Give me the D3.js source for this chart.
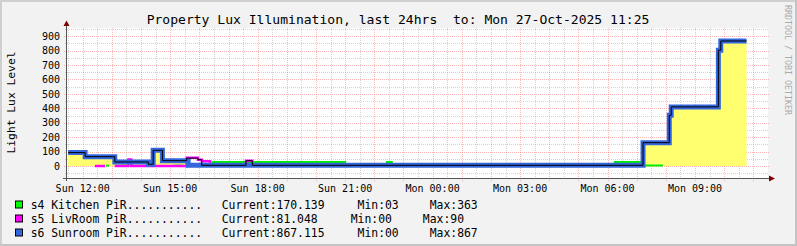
<!DOCTYPE html>
<html>
<head>
<meta charset="utf-8">
<script src="https://cdn.jsdelivr.net/npm/d3@7"></script>
<style>
body { margin: 0; background: #f2f2f2; }
text { font-family: "DejaVu Sans Mono", monospace; white-space: pre; }
</style>
</head>
<body>
<script>
var width = 797;
var height = 246;

// time window of the graph
var startTime = "26 11:25";
var endTime = "27 11:25";

// each series: runs of [from, to, value]
var kitchen = [
  ["26 12:48", "26 12:54", 3],
  ["26 15:08", "26 15:26", 3],
  ["26 16:25", "26 21:00", 28], ["26 21:00", "26 22:26", 5], ["26 22:26", "26 22:36", 28],
  ["26 22:36", "27 06:15", 5], ["27 06:15", "27 07:10", 28], ["27 07:10", "27 07:54", 3]
];
var livroom = [
  ["26 12:25", "26 12:46", 0],
  ["26 13:06", "26 13:34", 0], ["26 13:34", "26 13:40", 46], ["26 13:40", "26 15:34", 0],
  ["26 15:34", "26 15:57", 58], ["26 15:57", "26 16:05", 44], ["26 16:05", "26 16:22", 33],
  ["26 16:22", "26 17:36", 5], ["26 17:36", "26 17:49", 37], ["26 17:49", "27 07:10", 5]
];
var sunroom = [
  ["26 11:30", "26 12:05", 93], ["26 12:05", "26 13:06", 65], ["26 13:06", "26 14:15", 28],
  ["26 14:15", "26 14:25", 12], ["26 14:25", "26 14:44", 109], ["26 14:44", "26 15:37", 37],
  ["26 15:37", "27 07:13", 5], ["27 07:13", "27 08:07", 162], ["27 08:07", "27 08:11", 352],
  ["27 08:11", "27 09:48", 410], ["27 09:48", "27 09:53", 803], ["27 09:53", "27 10:46", 867]
];
// thin black line drawn over the sunroom line
var outline = [
  ["26 11:30", "26 12:05", 93], ["26 12:05", "26 13:06", 65], ["26 13:06", "26 14:15", 28],
  ["26 14:15", "26 14:25", 12], ["26 14:25", "26 14:44", 109], ["26 14:44", "26 15:34", 37],
  ["26 15:34", "26 15:57", 55], ["26 15:57", "26 16:05", 44], ["26 16:05", "26 17:36", 5],
  ["26 17:36", "26 17:49", 37], ["26 17:49", "27 07:13", 5], ["27 07:13", "27 08:07", 162],
  ["27 08:07", "27 08:11", 352], ["27 08:11", "27 09:48", 410], ["27 09:48", "27 09:53", 803],
  ["27 09:53", "27 10:46", 867]
];

var yLabels = [0, 100, 200, 300, 400, 500, 600, 700, 800, 900];
var legendNames = ["s4 Kitchen PiR...........", "s5 LivRoom PiR...........", "s6 Sunroom PiR..........."];
var legendColors = ["#00ff00", "#ff00ff", "#3366dd"];
var legendCurrent = ["Current:170.139", "Current:81.048", "Current:867.115"];
var legendMin = ["Min:03", "Min:00", "Min:00"];
var legendMax = ["Max:363", "Max:90", "Max:867"];

function tm(s) {
  var p = s.split(/[ :]/);
  return new Date(2025, 9, +p[0], +p[1], +p[2]);
}

// turn runs into point lists, one per unbroken piece
function pieces(runs) {
  var out = [], cur = null, lastEnd = null;
  runs.forEach(function(r) {
    if (cur === null || r[0] !== lastEnd) { cur = []; out.push(cur); }
    cur.push([tm(r[0]), r[2]]);
    cur.push([tm(r[1]), r[2]]);
    lastEnd = r[1];
  });
  return out;
}

var svg = d3.select("body").append("svg")
    .attr("width", width)
    .attr("height", height);

svg.append("rect").attr("width", width).attr("height", height).attr("fill", "#f2f2f2");
svg.append("rect").attr("x", 0).attr("y", 0).attr("width", width).attr("height", 2).attr("fill", "#cfcfcf");
svg.append("rect").attr("x", 0).attr("y", 0).attr("width", 2).attr("height", height).attr("fill", "#cfcfcf");
svg.append("rect").attr("x", width - 2).attr("y", 0).attr("width", 2).attr("height", height).attr("fill", "#c4c4c4");
svg.append("rect").attr("x", 0).attr("y", height - 2).attr("width", width).attr("height", 2).attr("fill", "#c4c4c4");

var x = d3.scaleTime()
    .domain([tm(startTime), tm(endTime)])
    .range([65.7, 765.5]);

var y = d3.scaleLinear()
    .domain([-90, 950])
    .range([179, 29]);

svg.append("rect")
    .attr("x", 67).attr("y", 28)
    .attr("width", 701).attr("height", 151)
    .attr("fill", "#ffffff");

// grid
var grid = svg.append("g").attr("class", "grid");
var halfHours = d3.timeMinute.every(30).range(tm(startTime), tm(endTime))
    .filter(function(d) { return x(d) > 67 && x(d) < 768; });

var yMinor = d3.range(-50, 951, 50).filter(function(v) { return v % 100 !== 0; });
var yMajor = d3.range(0, 901, 100);

grid.selectAll(".vminor")
    .data(halfHours.filter(function(d) { return d.getMinutes() !== 0; }))
  .enter().append("line")
    .attr("x1", function(d) { return Math.round(x(d)) + 0.5; })
    .attr("x2", function(d) { return Math.round(x(d)) + 0.5; })
    .attr("y1", 28).attr("y2", 179)
    .attr("stroke", "#8c8c8c").attr("stroke-opacity", 0.38)
    .attr("stroke-dasharray", "1,1");

grid.selectAll(".hminor")
    .data(yMinor)
  .enter().append("line")
    .attr("x1", 65).attr("x2", 768)
    .attr("y1", function(d) { return Math.round(y(d)) + 0.5; })
    .attr("y2", function(d) { return Math.round(y(d)) + 0.5; })
    .attr("stroke", "#8c8c8c").attr("stroke-opacity", 0.38)
    .attr("stroke-dasharray", "1,1");

grid.selectAll(".vmajor")
    .data(halfHours.filter(function(d) { return d.getMinutes() === 0; }))
  .enter().append("line")
    .attr("x1", function(d) { return Math.round(x(d)) + 0.5; })
    .attr("x2", function(d) { return Math.round(x(d)) + 0.5; })
    .attr("y1", 28).attr("y2", 181)
    .attr("stroke", "#ff5050").attr("stroke-opacity", 0.4)
    .attr("stroke-dasharray", "1,1");

grid.selectAll(".hmajor")
    .data(yMajor)
  .enter().append("line")
    .attr("x1", 64).attr("x2", 770)
    .attr("y1", function(d) { return Math.round(y(d)) + 0.5; })
    .attr("y2", function(d) { return Math.round(y(d)) + 0.5; })
    .attr("stroke", "#ff5050").attr("stroke-opacity", 0.4)
    .attr("stroke-dasharray", "1,1");

// data
var line = d3.line()
    .x(function(d) { return x(d[0]); })
    .y(function(d) { return y(d[1]); });

var area = d3.area()
    .x(function(d) { return x(d[0]); })
    .y0(y(0))
    .y1(function(d) { return y(d[1]); });

svg.append("g").selectAll("path")
    .data(pieces(sunroom))
  .enter().append("path")
    .attr("d", area)
    .attr("fill", "#ffff70");

function drawLine(runs, color, w) {
  svg.append("g").selectAll("path")
      .data(pieces(runs))
    .enter().append("path")
      .attr("d", line)
      .attr("fill", "none")
      .attr("stroke", color)
      .attr("stroke-width", w);
}

drawLine(kitchen, "#00ee00", 2);
drawLine(livroom, "#ff00ff", 2.5);
drawLine(sunroom, "#3366dd", 5);
drawLine(outline, "#000000", 1);

// axes
svg.append("line")
    .attr("x1", 63).attr("x2", 770)
    .attr("y1", 178.5).attr("y2", 178.5)
    .attr("stroke", "#555555");
svg.append("line")
    .attr("x1", 66.5).attr("x2", 66.5)
    .attr("y1", 181).attr("y2", 25)
    .attr("stroke", "#555555");
svg.append("path")
    .attr("d", "M769,175.5L775,178.5L769,181.5Z")
    .attr("fill", "#7f0000");
svg.append("path")
    .attr("d", "M63.5,26L66.5,20.5L69.5,26Z")
    .attr("fill", "#7f0000");

svg.append("g").selectAll("text")
    .data(yLabels)
  .enter().append("text")
    .attr("x", 60)
    .attr("y", function(d) { return y(d) + 3.6; })
    .attr("text-anchor", "end")
    .attr("font-size", "10px")
    .attr("fill", "#000")
    .text(function(d) { return d; });

var fmt = d3.timeFormat("%a %H:%M");
svg.append("g").selectAll("text")
    .data(d3.timeHour.every(3).range(tm(startTime), tm(endTime)))
  .enter().append("text")
    .attr("x", function(d) { return x(d); })
    .attr("y", 192)
    .attr("text-anchor", "middle")
    .attr("font-size", "10px")
    .attr("fill", "#000")
    .text(function(d) { return fmt(d); });

// titles
svg.append("text")
    .attr("x", 398).attr("y", 24)
    .attr("text-anchor", "middle")
    .attr("font-size", "13.05px")
    .text("Property Lux Illumination, last 24hrs  to: Mon 27-Oct-2025 11:25");

svg.append("text")
    .attr("transform", "translate(14.5,102.5) rotate(-90)")
    .attr("text-anchor", "middle")
    .attr("font-size", "11.3px")
    .text("Light Lux Level");

svg.append("text")
    .attr("transform", "translate(785,5) rotate(90)")
    .attr("font-size", "8.3px")
    .attr("fill", "#aaaaaa")
    .text("RRDTOOL / TOBI OETIKER");

// legend
var legend = svg.append("g").attr("font-size", "11.4px");
legendNames.forEach(function(name, i) {
  var base = 208.5 + i * 14;
  legend.append("rect")
      .attr("x", 15.5).attr("y", base - 7.5)
      .attr("width", 7).attr("height", 7)
      .attr("fill", legendColors[i])
      .attr("stroke", "#000");
  legend.append("text").attr("x", 30.7).attr("y", base).text(name);
  var cur = legend.append("text").attr("x", 221.7).attr("y", base).text(legendCurrent[i]);
  var mx = 221.7 + cur.node().getComputedTextLength() + 33;
  var mn = legend.append("text").attr("x", mx).attr("y", base).text(legendMin[i]);
  legend.append("text")
      .attr("x", mx + mn.node().getComputedTextLength() + 31)
      .attr("y", base)
      .text(legendMax[i]);
});
</script>
</body>
</html>
